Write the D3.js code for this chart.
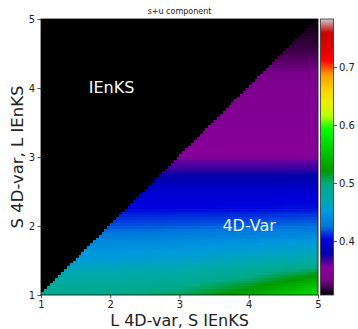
<!DOCTYPE html>
<html>
<head>
<meta charset="utf-8">
<script src="https://cdn.jsdelivr.net/npm/d3@7"></script>
<style>
  body { margin: 0; background: #fff; }
  svg { display: block; font-family: "DejaVu Sans", sans-serif; }
</style>
</head>
<body>
<svg id="chart" width="358" height="329"></svg>
<script>
const xGrid = [1, 2, 3, 4, 5];
const yGrid = [1, 1.25, 1.5, 1.75, 2, 2.25, 2.5, 2.75, 3, 3.25, 3.5, 3.75, 4, 4.25, 4.5, 4.75, 5];
// one row per yGrid entry, one column per xGrid entry; null = IEnKS side (masked)
const sPlusU = [
  [0.492, 0.497, 0.505, 0.530, 0.572],
  [null, 0.478, 0.485, 0.500, 0.528],
  [null, 0.455, 0.460, 0.468, 0.478],
  [null, 0.440, 0.442, 0.447, 0.452],
  [null, 0.418, 0.420, 0.422, 0.425],
  [null, null, 0.403, 0.404, 0.406],
  [null, null, 0.396, 0.396, 0.397],
  [null, null, 0.375, 0.375, 0.376],
  [null, null, 0.356, 0.356, 0.356],
  [null, null, null, 0.350, 0.350],
  [null, null, null, 0.347, 0.347],
  [null, null, null, 0.345, 0.345],
  [null, null, null, 0.342, 0.342],
  [null, null, null, null, 0.330],
  [null, null, null, null, 0.321],
  [null, null, null, null, 0.314],
  [null, null, null, null, 0.309]
];
const axisTicks = [1, 2, 3, 4, 5];
const colorTicks = [0.4, 0.5, 0.6, 0.7];
const colorRange = [0.307, 0.783];

// matplotlib nipy_spectral, 21 evenly spaced stops
const nipySpectral = ['#000000', '#770088', '#880099', '#0000aa', '#0000dd', '#0077dd', '#0099dd',
  '#00aaaa', '#00aa88', '#009900', '#00bb00', '#00dd00', '#00ff00', '#bbff00', '#eeee00',
  '#ffcc00', '#ff9900', '#ff0000', '#dd0000', '#cc0000', '#cccccc'];

const plot = {x0: 41, x1: 318, y0: 19, y1: 295};
const cbar = {x0: 320.5, x1: 333.5};
const cells = 96;

const svg = d3.select('#chart');

const x = d3.scaleLinear().domain([1, 5]).range([plot.x0, plot.x1]);
const y = d3.scaleLinear().domain([1, 5]).range([plot.y1, plot.y0]);

const [vmin, vmax] = colorRange;
const color = d3.scaleLinear()
  .domain(nipySpectral.map((_, i) => vmin + i / (nipySpectral.length - 1) * (vmax - vmin)))
  .range(nipySpectral)
  .clamp(true);

// bilinear lookup in the grid (display smoothing only)
function valueAt(xv, yv) {
  const ci = Math.min(xGrid.length - 2, Math.max(0, d3.bisectRight(xGrid, xv) - 1));
  const ri = Math.min(yGrid.length - 2, Math.max(0, d3.bisectRight(yGrid, yv) - 1));
  const tx = (xv - xGrid[ci]) / (xGrid[ci + 1] - xGrid[ci]);
  const ty = (yv - yGrid[ri]) / (yGrid[ri + 1] - yGrid[ri]);
  const v = (r, c) => {
    const row = sPlusU[r];
    let k = c;
    while (row[k] == null && k < row.length - 1) k++;
    return row[k];
  };
  return (1 - ty) * ((1 - tx) * v(ri, ci) + tx * v(ri, ci + 1))
    + ty * ((1 - tx) * v(ri + 1, ci) + tx * v(ri + 1, ci + 1));
}

// heatmap drawn pixel by pixel into a canvas, then placed in the svg
const pw = plot.x1 - plot.x0, ph = plot.y1 - plot.y0;
const canvas = document.createElement('canvas');
canvas.width = pw;
canvas.height = ph;
const ctx = canvas.getContext('2d');
const img = ctx.createImageData(pw, ph);
const cellSize = (x.domain()[1] - x.domain()[0]) / cells;
for (let py = 0; py < ph; py++) {
  const yv = y.invert(plot.y0 + py + 0.5);
  const j = Math.min(cells - 1, Math.floor((yv - 1) / cellSize));
  for (let px = 0; px < pw; px++) {
    const xv = x.invert(plot.x0 + px + 0.5);
    const i = Math.min(cells - 1, Math.floor((xv - 1) / cellSize));
    let c = {r: 0, g: 0, b: 0};
    if (j <= i) {
      c = d3.rgb(color(valueAt(1 + (i + 0.5) * cellSize, 1 + (j + 0.5) * cellSize)));
    }
    const k = (py * pw + px) * 4;
    img.data[k] = c.r;
    img.data[k + 1] = c.g;
    img.data[k + 2] = c.b;
    img.data[k + 3] = 255;
  }
}
ctx.putImageData(img, 0, 0);

svg.append('image')
  .attr('x', plot.x0)
  .attr('y', plot.y0)
  .attr('width', pw)
  .attr('height', ph)
  .attr('preserveAspectRatio', 'none')
  .attr('href', canvas.toDataURL());

svg.append('rect')
  .attr('x', plot.x0)
  .attr('y', plot.y0)
  .attr('width', pw)
  .attr('height', ph)
  .attr('fill', 'none')
  .attr('stroke', '#000')
  .attr('stroke-width', 0.8);

// axes
const xAxis = svg.append('g')
  .attr('transform', `translate(0,${plot.y1})`)
  .call(d3.axisBottom(x).tickValues(axisTicks).tickFormat(d3.format('d')).tickSize(3.5).tickPadding(2));
const yAxis = svg.append('g')
  .attr('transform', `translate(${plot.x0},0)`)
  .call(d3.axisLeft(y).tickValues(axisTicks).tickFormat(d3.format('d')).tickSize(3.5).tickPadding(2.5));
[xAxis, yAxis].forEach(a => {
  a.select('.domain').remove();
  a.selectAll('text').attr('font-size', 10).attr('font-family', '"DejaVu Sans", sans-serif').attr('fill', '#222');
  a.selectAll('line').attr('stroke', '#222').attr('stroke-width', 0.8);
});

// colorbar
const cScale = d3.scaleLinear().domain(colorRange).range([plot.y1, plot.y0]);
const grad = svg.append('defs').append('linearGradient')
  .attr('id', 'cbgrad')
  .attr('x1', 0).attr('y1', 1).attr('x2', 0).attr('y2', 0);
grad.selectAll('stop')
  .data(color.domain())
  .enter()
  .append('stop')
  .attr('offset', d => (d - vmin) / (vmax - vmin))
  .attr('stop-color', d => color(d));
svg.append('rect')
  .attr('x', cbar.x0)
  .attr('y', plot.y0)
  .attr('width', cbar.x1 - cbar.x0)
  .attr('height', ph)
  .attr('fill', 'url(#cbgrad)')
  .attr('stroke', '#333')
  .attr('stroke-width', 0.8);
const cAxis = svg.append('g')
  .attr('transform', `translate(${cbar.x1},0)`)
  .call(d3.axisRight(cScale).tickValues(colorTicks).tickFormat(d3.format('.1f')).tickSize(3.5).tickPadding(2));
cAxis.select('.domain').remove();
cAxis.selectAll('text').attr('font-size', 10).attr('font-family', '"DejaVu Sans", sans-serif').attr('fill', '#222');
cAxis.selectAll('line').attr('stroke', '#222').attr('stroke-width', 0.8);

// titles and region labels
svg.append('text')
  .attr('x', (plot.x0 + plot.x1) / 2)
  .attr('y', 14)
  .attr('text-anchor', 'middle')
  .attr('font-size', 8)
  .attr('fill', '#222')
  .text('s+u component');

svg.append('text')
  .attr('x', (plot.x0 + plot.x1) / 2)
  .attr('y', 325.5)
  .attr('text-anchor', 'middle')
  .attr('font-size', 16)
  .attr('fill', '#222')
  .text('L 4D-var, S IEnKS');

svg.append('text')
  .attr('transform', `translate(22.5,${(plot.y0 + plot.y1) / 2}) rotate(-90)`)
  .attr('text-anchor', 'middle')
  .attr('font-size', 16.5)
  .attr('fill', '#222')
  .text('S 4D-var, L IEnKS');

svg.append('text')
  .attr('x', x(1.69))
  .attr('y', y(3.93))
  .attr('font-size', 16)
  .attr('fill', '#fff')
  .text('IEnKS');

svg.append('text')
  .attr('x', x(3.62))
  .attr('y', y(1.93))
  .attr('font-size', 16)
  .attr('fill', '#eef')
  .text('4D-Var');
</script>
</body>
</html>
